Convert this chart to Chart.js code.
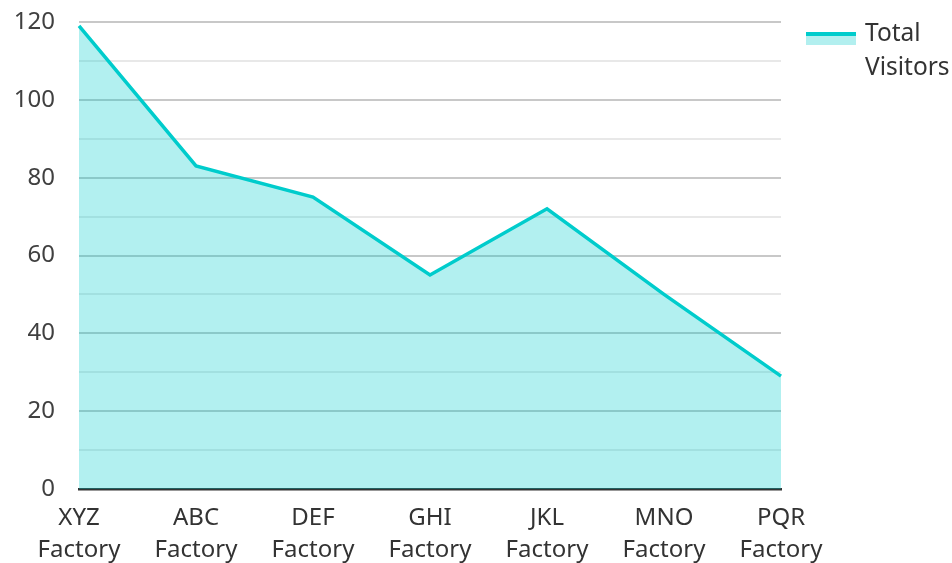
<!DOCTYPE html>
<html>
<head>
<meta charset="utf-8">
<script src="https://cdn.jsdelivr.net/npm/chart.js@4/dist/chart.umd.min.js"></script>
<style>
  html, body { margin: 0; padding: 0; background: #fff; }
  #wrap { width: 952px; height: 563px; }
</style>
</head>
<body>
<div id="wrap"><canvas id="chart" width="952" height="563"></canvas></div>
<script>
// chart data
const factories = [
  ["XYZ", "Factory"], ["ABC", "Factory"], ["DEF", "Factory"], ["GHI", "Factory"],
  ["JKL", "Factory"], ["MNO", "Factory"], ["PQR", "Factory"]
];
const totalVisitors = [119, 83, 75, 55, 72, 50, 29];
const seriesName = ["Total", "Visitors"];
const yMax = 120;
const yStep = 10;

const lineColor = "#00cccc";
const fillColor = "rgba(0, 204, 204, 0.3)";
const fontFamily = "'Noto Sans', 'Open Sans', sans-serif";

Chart.defaults.font.family = fontFamily;
Chart.defaults.font.size = 24;
Chart.defaults.color = "#404040";

// legend on the right: line swatch with fill under it, name in two lines
const sideLegend = {
  id: "sideLegend",
  afterDraw(chart) {
    const c = chart.ctx;
    const ds = chart.data.datasets[0];
    const x = chart.chartArea.right + 25;
    const y = chart.chartArea.top + 10;
    c.save();
    c.fillStyle = "#b2efef";
    c.fillRect(x, y, 50, 13);
    c.fillStyle = ds.borderColor;
    c.fillRect(x, y, 50, 4);
    c.fillStyle = "#333";
    c.font = "24.5px " + fontFamily;
    c.textBaseline = "middle";
    c.textAlign = "left";
    ds.label.forEach((line, i) => c.fillText(line, x + 59, y + 2 + i * 34));
    c.restore();
  }
};

const ctx = document.getElementById("chart").getContext("2d");
new Chart(ctx, {
  type: "line",
  data: {
    labels: factories,
    datasets: [{
      label: seriesName,
      data: totalVisitors,
      borderColor: lineColor,
      backgroundColor: fillColor,
      borderWidth: 3.5,
      fill: true,
      pointRadius: 0,
      tension: 0
    }]
  },
  plugins: [sideLegend],
  options: {
    responsive: false,
    animation: false,
    layout: { padding: { top: 22, right: 171, bottom: 0, left: 0 } },
    plugins: {
      tooltip: { enabled: false },
      legend: { display: false }
    },
    scales: {
      x: {
        offset: false,
        grid: { display: false, drawTicks: false },
        border: { display: true, color: "#333", width: 2.5 },
        afterFit: (s) => { s.height = 74; },
        ticks: {
          maxRotation: 0,
          autoSkip: false,
          padding: 13,
          color: "#333",
          font: { size: 24, lineHeight: 1.33 }
        }
      },
      y: {
        min: 0,
        max: yMax,
        afterFit: (s) => { s.width = 79; s.paddingTop = 0; s.paddingBottom = 0; },
        grid: {
          drawTicks: false,
          color: (c) => (c.tick && c.tick.value % 20 === 0) ? "#c8c8c8" : "#e8e8e8",
          lineWidth: 2
        },
        border: { display: false },
        ticks: {
          stepSize: yStep,
          padding: 24,
          color: "#404040",
          callback: (v) => (v % 20 === 0 ? v : "")
        }
      }
    }
  }
});
</script>
</body>
</html>
